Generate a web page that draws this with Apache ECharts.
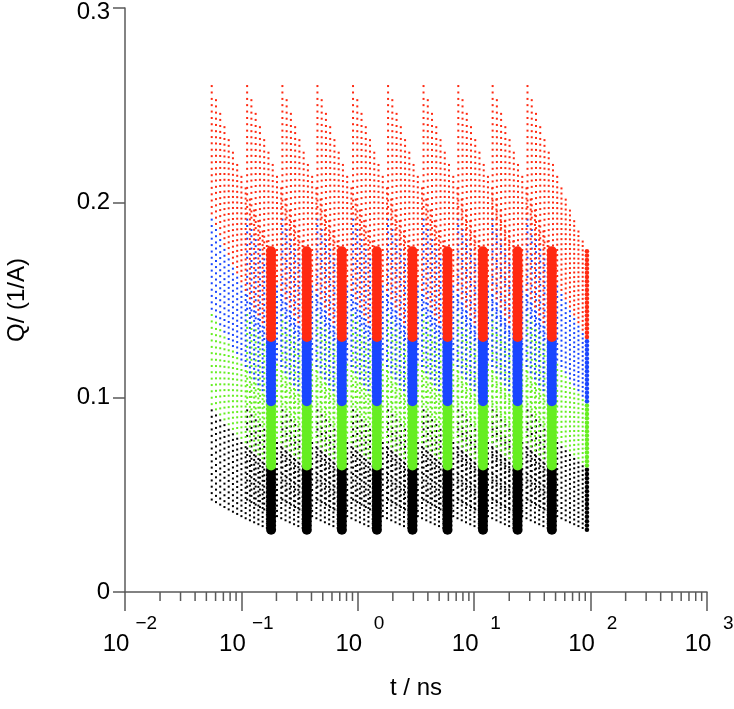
<!DOCTYPE html>
<html><head><meta charset="utf-8">
<script src="https://cdn.jsdelivr.net/npm/echarts@6/dist/echarts.min.js"></script>
<style>html,body{margin:0;padding:0;background:#fff}#c{width:734px;height:709px}</style>
</head><body><div id="c"></div>
<script>
// measurement times (ns) of each column and the start times of their dotted fans
const tEnd   = [0.18, 0.365, 0.73, 1.46, 2.95, 5.9, 11.9, 23.6, 46.5, 93];
const tStart = [0.0556, 0.112, 0.225, 0.45, 0.91, 1.82, 3.67, 7.3, 14.4, 28.7];

// Q values (1/A) at each column, per colour band
const blackQ = [0.0320,0.0342,0.0364,0.0386,0.0408,0.0430,0.0452,0.0474,0.0496,0.0518,0.0540,0.0562,0.0584,0.0606,0.0628];
const greenQ = [0.0650,0.0672,0.0694,0.0716,0.0738,0.0760,0.0782,0.0804,0.0826,0.0848,0.0870,0.0892,0.0914,0.0936,0.0958];
const blueQ  = [0.0980,0.1002,0.1024,0.1046,0.1068,0.1090,0.1112,0.1134,0.1156,0.1178,0.1200,0.1222,0.1244,0.1266,0.1288];
const redQ   = [0.1310,0.1332,0.1354,0.1376,0.1398,0.1420,0.1442,0.1464,0.1486,0.1508,0.1530,0.1552,0.1574,0.1596,0.1618,0.1640,0.1662,0.1684,0.1706,0.1728,0.1750];

// Q values (1/A) where each dotted trajectory starts (left end of each fan)
const blackQStart = [0.0475,0.0508,0.0541,0.0573,0.0606,0.0639,0.0671,0.0704,0.0737,0.0769,0.0802,0.0835,0.0867,0.0900,0.0933];
const greenQStart = [0.0965,0.0998,0.1031,0.1063,0.1096,0.1129,0.1161,0.1194,0.1227,0.1259,0.1292,0.1325,0.1357,0.1390,0.1423];
const blueQStart  = [0.1455,0.1488,0.1521,0.1553,0.1586,0.1619,0.1651,0.1684,0.1717,0.1749,0.1782,0.1815,0.1847,0.1880,0.1913];
const redQStart   = [0.1945,0.1978,0.2011,0.2043,0.2076,0.2109,0.2141,0.2174,0.2207,0.2239,0.2272,0.2305,0.2337,0.2370,0.2403,0.2435,0.2468,0.2501,0.2533,0.2566,0.2599];

const xTickExponents = [-2, -1, 0, 1, 2, 3];
const yTickLabels = ['0', '0.1', '0.2', '0.3'];

// styles
const groups = [
  {color: '#000000', q: blackQ, q0: blackQStart},
  {color: '#66ee22', q: greenQ, q0: greenQStart},
  {color: '#1a46ff', q: blueQ,  q0: blueQStart},
  {color: '#ff2a12', q: redQ,   q0: redQStart}
];
const colSize = [10,10,10,10,10,10,10,10,10,4.5];
const DOTS = 14;          // dot intervals drawn along each dotted trajectory
const FONT = '"Liberation Sans", Arial, Helvetica, sans-serif';
const AXIS = '#5a5a5a';

const minorTicks = [];
for (let e = xTickExponents[0]; e < xTickExponents[xTickExponents.length - 1]; e++) {
  for (let m = 2; m <= 9; m++) minorTicks.push(m * Math.pow(10, e));
}

const chart = echarts.init(document.getElementById('c'), null, {renderer: 'canvas'});

function supText(e) { return e < 0 ? '\u2212' + (-e) : String(e); }

const series = [];
// dotted trajectories (fans): each joins its two end points as a straight path in log-log space
groups.forEach(g => {
  const data = [];
  tEnd.forEach((te, c) => g.q.forEach((q, i) => data.push([tStart[c], g.q0[i], te, q])));
  series.push({
    type: 'custom', silent: true, animation: false, z: 2,
    encode: {x: [0, 2], y: [1, 3]},
    data,
    renderItem: (params, api) => {
      const t0 = api.value(0), q0 = api.value(1), t1 = api.value(2), q1 = api.value(3);
      const children = [];
      for (let k = 0; k <= DOTS; k++) {
        const f = k / DOTS;
        const p = api.coord([Math.pow(t0, 1 - f) * Math.pow(t1, f), Math.pow(q0, 1 - f) * Math.pow(q1, f)]);
        children.push({
          type: 'rect',
          shape: {x: p[0] - 1, y: p[1] - 1, width: 2, height: 2},
          style: {fill: g.color}
        });
      }
      return {type: 'group', children};
    }
  });
});
// thick measurement columns
groups.forEach(g => {
  const data = [];
  tEnd.forEach((te, c) => g.q.forEach(q => data.push([te, q, c])));
  series.push({
    type: 'scatter', symbol: 'circle', silent: true, animation: false, z: 3,
    symbolSize: v => colSize[v[2]],
    itemStyle: {color: g.color, opacity: 1},
    data
  });
});
// minor log ticks
series.push({
  type: 'custom', silent: true, animation: false, z: 4, clip: false,
  data: minorTicks.map(v => [v, 0]),
  renderItem: (params, api) => {
    const p = api.coord([api.value(0), 0]);
    return {type: 'line', shape: {x1: p[0], y1: p[1], x2: p[0], y2: p[1] + 9},
            style: {stroke: AXIS, lineWidth: 1.5}};
  }
});

const option = {
  animation: false,
  backgroundColor: '#ffffff',
  grid: {left: 125, right: 27, top: 8, bottom: 117, containLabel: false, outerBoundsMode: 'none'},
  xAxis: {
    type: 'log', logBase: 10, min: 0.01, max: 1000,
    name: 't / ns', nameLocation: 'middle', nameGap: 84,
    nameTextStyle: {fontFamily: FONT, fontSize: 24, color: '#000'},
    axisLine: {show: true, onZero: false, lineStyle: {color: AXIS, width: 1.5}},
    axisTick: {show: true, length: 19, lineStyle: {color: AXIS, width: 1.5}},
    minorTick: {show: false},
    splitLine: {show: false},
    axisLabel: {
      margin: 22, hideOverlap: false,
      formatter: v => {
        const e = Math.round(Math.log10(v));
        return '{p| }{b|10}{s|' + supText(e) + '}';
      },
      rich: {
        p: {width: 13, fontSize: 10},
        b: {fontFamily: FONT, fontSize: 24, color: '#000', lineHeight: 42, verticalAlign: 'bottom'},
        s: {fontFamily: FONT, fontSize: 19, color: '#000', lineHeight: 19, verticalAlign: 'top', width: 28, align: 'left', padding: [0, 0, 0, 3]}
      }
    }
  },
  yAxis: {
    type: 'value', min: 0, max: 0.3, interval: 0.1,
    name: 'Q/ (1/A)', nameLocation: 'middle', nameGap: 96, nameRotate: 90,
    nameTextStyle: {fontFamily: FONT, fontSize: 24, color: '#000'},
    axisLine: {show: true, onZero: false, lineStyle: {color: AXIS, width: 1.5}},
    axisTick: {show: true, length: 12, lineStyle: {color: AXIS, width: 1.5}},
    splitLine: {show: false},
    axisLabel: {
      margin: 15,
      formatter: v => {
        const i = Math.round(v * 10);
        return (i === yTickLabels.length - 1 ? '{top|' : '{n|') + yTickLabels[i] + '}';
      },
      rich: {
        n: {fontFamily: FONT, fontSize: 24, color: '#000'},
        top: {fontFamily: FONT, fontSize: 24, color: '#000', padding: [9, 0, 0, 0]}
      }
    }
  },
  series
};
chart.setOption(option);
</script>
</body></html>
